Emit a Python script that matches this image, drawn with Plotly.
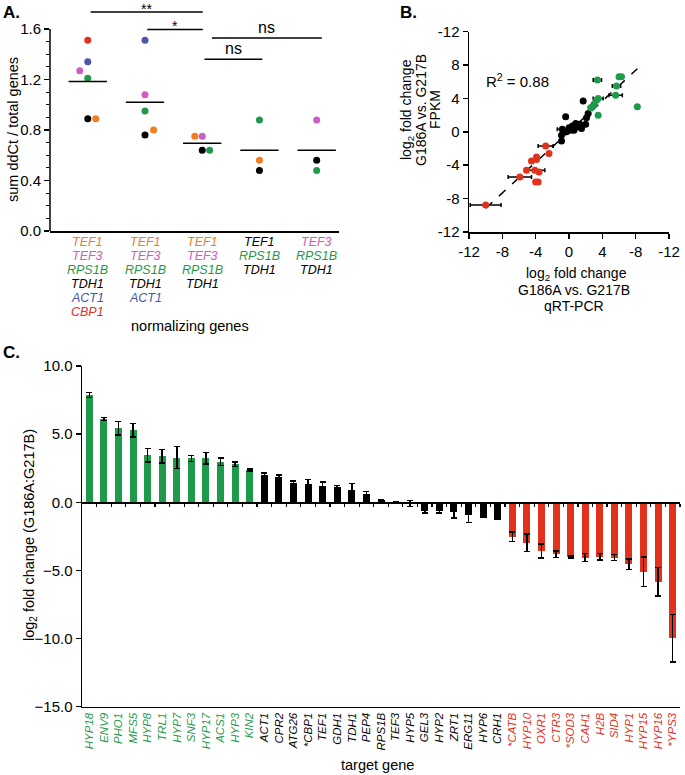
import numpy as np
import plotly.graph_objects as go

W, H = 685, 775
FONT = "Liberation Sans, Arial, Helvetica, sans-serif"

RED = "#e2321d"
BLUE = "#4a56a6"
PINK = "#cf5ec3"
GREEN = "#1f9a4b"
ORANGE = "#f07d1f"
BLACK = "#000000"

def px_x(p):
    return p / W

def px_y(p):
    return 1 - p / H

# ---------------- Panel A data ----------------
a_groups = [1, 2, 3, 4, 5]
a_label_genes = [
    ["TEF1", "TEF3", "RPS1B", "TDH1", "ACT1", "CBP1"],
    ["TEF1", "TEF3", "RPS1B", "TDH1", "ACT1"],
    ["TEF1", "TEF3", "RPS1B", "TDH1"],
    ["TEF1", "RPS1B", "TDH1"],
    ["TEF3", "RPS1B", "TDH1"],
]
a_label_colors = [
    [ORANGE, PINK, GREEN, BLACK, BLUE, RED],
    [ORANGE, PINK, GREEN, BLACK, BLUE],
    [ORANGE, PINK, GREEN, BLACK],
    [BLACK, GREEN, BLACK],
    [PINK, GREEN, BLACK],
]
a_point_group = [1, 1, 1, 1, 1, 1, 2, 2, 2, 2, 2, 3, 3, 3, 3, 4, 4, 4, 5, 5, 5]
a_point_value = [1.51, 1.34, 1.27, 1.21, 0.89, 0.89,
                 1.51, 1.08, 0.95, 0.80, 0.76,
                 0.75, 0.75, 0.64, 0.64,
                 0.88, 0.56, 0.48,
                 0.88, 0.56, 0.48]
a_point_color = [RED, BLUE, PINK, GREEN, BLACK, ORANGE,
                 BLUE, PINK, GREEN, ORANGE, BLACK,
                 ORANGE, PINK, BLACK, GREEN,
                 GREEN, ORANGE, BLACK,
                 PINK, BLACK, GREEN]
a_point_jitter = [0, 0, -0.14, 0, 0, 0.14,
                  0, 0, 0, 0.15, 0,
                  -0.13, 0, 0, 0.13,
                  0, 0, 0,
                  0, 0, 0]
a_sig_from = [1.05, 2.04, 3.17, 3.04]
a_sig_to = [3.01, 3.01, 5.09, 4.05]
a_sig_level = [1.735, 1.597, 1.529, 1.36]
a_sig_text = ["**", "*", "ns", "ns"]

# ---------------- Panel B data ----------------
b_qpcr = [-10.0, -5.9, -5.1, -4.1, -4.5, -3.9, -3.9, -3.6, -4.0, -3.7, -2.8, -2.4,
          -0.9, -0.9, -0.8, -0.4, -0.3, 0.0, 0.2, 0.4, 0.6, 0.8, 1.0, 1.3, 1.5, 1.7, 2.0, 2.1, 2.3,
          2.6, 3.0, 3.3, 3.5, 3.5, 3.4, 2.8, 5.6, 5.7, 6.0, 6.3, 8.2]
b_fpkm = [-8.75, -5.4, -4.6, -4.6, -3.5, -3.3, -3.0, -4.8, -6.0, -6.0, -1.7, -2.6,
          -1.1, -0.4, 0.3, 1.8, 0.0, 0.5, 0.2, 0.7, 0.2, 1.0, 0.6, 0.9, 0.4, 3.7, 0.9, 1.7, 2.2,
          2.9, 3.3, 3.8, 4.0, 2.0, 6.2, 3.0, 4.4, 5.5, 6.6, 6.6, 3.0]
b_qpcr_err = [1.85, 1.4, 0, 1.2, 0, 0, 0, 0, 0, 0, 0.9, 0,
              0, 0, 0.6, 0, 0, 0, 0, 0, 0, 0, 0, 0, 0, 0, 0, 0, 0,
              0, 0, 0, 0.6, 0, 0.5, 0, 0.8, 0.5, 0, 0, 0]
b_class = ["down"] * 12 + ["none"] * 17 + ["up"] * 12
b_tickvals = [-12, -8, -4, 0, 4, 8, 12]
b_x_ticktext = ["-12", "-8", "-4", "0", "4", "-8", "-12"]
b_y_ticktext = ["-12", "-8", "-4", "0", "4", "8", "-12"]
b_r2_text = "R<sup>2</sup> = 0.88"

# ---------------- Panel C data ----------------
c_genes = ["HYP18", "ENV9", "PHO1", "MFS5", "HYP8", "TRL1", "HYP7", "SNF3", "HYP17", "ACS1", "HYP3", "KIN2",
           "ACT1", "CPR2", "ATG26", "*CBP1", "TEF1", "GDH1", "TDH1", "PEP4", "RPS1B", "TEF3", "HYP5",
           "GEL3", "HYP2", "ZRT1", "ERG11", "HYP6", "CRH1",
           "*CATB", "HYP10", "OXR1", "CTR3", "*SOD3", "CAH1", "H2B", "SID4", "HYP1", "HYP15", "HYP16", "*YPS3"]
c_values = [7.87, 6.11, 5.43, 5.28, 3.45, 3.37, 3.28, 3.23, 3.23, 2.98, 2.79, 2.37,
            1.98, 1.86, 1.42, 1.32, 1.20, 1.12, 0.93, 0.64, 0.17, 0.02, -0.10,
            -0.64, -0.64, -0.70, -0.95, -1.12, -1.27,
            -2.54, -2.96, -3.57, -3.81, -4.00, -4.06, -4.00, -4.06, -4.55, -5.10, -5.84, -9.98]
c_errors = [0.18, 0.10, 0.49, 0.50, 0.49, 0.49, 0.80, 0.22, 0.42, 0.27, 0.15, 0.06,
            0.16, 0.13, 0.16, 0.37, 0.30, 0.11, 0.46, 0.16, 0.05, 0.0, 0.22,
            0.16, 0.15, 0.45, 0.55, 0.0, 0.0,
            0.35, 0.65, 0.51, 0.23, 0.07, 0.30, 0.25, 0.22, 0.38, 1.09, 1.04, 1.75]
c_class = ["up"] * 12 + ["none"] * 17 + ["down"] * 12

CLASS_COLOR = {"up": GREEN, "none": BLACK, "down": RED}

fig = go.Figure()

# ---------- Panel A ----------
a_x = [g + j for g, j in zip(a_point_group, a_point_jitter)]
fig.add_trace(go.Scatter(
    x=a_x, y=a_point_value, mode="markers", xaxis="x", yaxis="y",
    marker=dict(color=a_point_color, size=7, line=dict(width=0)),
    showlegend=False, hoverinfo="skip"))
for g in a_groups:
    vals = [v for v, pg in zip(a_point_value, a_point_group) if pg == g]
    m = float(np.mean(vals))
    fig.add_trace(go.Scatter(
        x=[g - 0.335, g + 0.335], y=[m, m], mode="lines", xaxis="x", yaxis="y",
        line=dict(color="black", width=1.5), showlegend=False, hoverinfo="skip"))

# x labels of panel A: one text line per normalizing gene
for g, genes, cols in zip(a_groups, a_label_genes, a_label_colors):
    for k, (gene, col) in enumerate(zip(genes, cols)):
        fig.add_annotation(x=g, y=1 - (242 + 14 * k) / H, xref="x", yref="paper",
                           text=f"<i>{gene}</i>", showarrow=False, yanchor="middle",
                           font=dict(size=12.5, family=FONT, color=col))

for x0, x1, yv, t in zip(a_sig_from, a_sig_to, a_sig_level, a_sig_text):
    fig.add_shape(type="line", xref="x", yref="y", x0=x0, x1=x1, y0=yv, y1=yv,
                  line=dict(color="black", width=1.5))
    if "*" in t:
        fig.add_annotation(x=(x0 + x1) / 2, y=yv, xref="x", yref="y", text=t, showarrow=False,
                           yanchor="middle", yshift=3,
                           font=dict(size=14, family=FONT, color="black"))
    else:
        fig.add_annotation(x=(x0 + x1) / 2, y=yv, xref="x", yref="y", text=t, showarrow=False,
                           yanchor="bottom", yshift=0,
                           font=dict(size=16, family=FONT, color="black"))

# ---------- Panel B ----------
bx = np.array(b_qpcr)
by = np.array(b_fpkm)
slope, intercept = np.polyfit(bx, by, 1)
xfit = np.array([bx.min(), bx.max()])
fig.add_trace(go.Scatter(
    x=xfit, y=slope * xfit + intercept, mode="lines", xaxis="x2", yaxis="y2",
    line=dict(color="black", width=1.5, dash="dash"), showlegend=False, hoverinfo="skip"))
fig.add_trace(go.Scatter(
    x=b_qpcr, y=b_fpkm, mode="markers", xaxis="x2", yaxis="y2",
    marker=dict(color=[CLASS_COLOR[c] for c in b_class], size=7),
    error_x=dict(type="data", array=b_qpcr_err, color="black", thickness=1.5, width=2),
    showlegend=False, hoverinfo="skip"))
fig.add_annotation(x=-6.2, y=6.2, xref="x2", yref="y2", text=b_r2_text, showarrow=False,
                   font=dict(size=15, family=FONT, color="black"))

# ---------- Panel C ----------
c_x = list(range(len(c_genes)))
fig.add_trace(go.Bar(
    x=c_x, y=c_values, xaxis="x3", yaxis="y3", width=0.48,
    marker=dict(color=[CLASS_COLOR[c] for c in c_class], line=dict(width=0)),
    error_y=dict(type="data", array=c_errors, color="black", thickness=1.5, width=3),
    showlegend=False, hoverinfo="skip"))
# helper trace so the zero-line axis is drawn
fig.add_trace(go.Scatter(x=[None], y=[None], xaxis="x4", yaxis="y3", showlegend=False,
                         hoverinfo="skip"))

c_ticktext = [f'<span style="color:{CLASS_COLOR[c]}"><i>{g}</i></span>'
              for g, c in zip(c_genes, c_class)]

c_yrange = [-15, 10]
c_ydom = [px_y(706.7), px_y(366)]
zero_pos = c_ydom[0] + (0 - c_yrange[0]) / (c_yrange[1] - c_yrange[0]) * (c_ydom[1] - c_ydom[0])

tickfont = dict(size=15, family=FONT, color="black")

a_ydom = [px_y(231), px_y(3.75)]
fig.update_layout(
    width=W, height=H, margin=dict(l=0, r=0, t=0, b=0),
    paper_bgcolor="white", plot_bgcolor="white",
    font=dict(family=FONT, color="black"),
    bargap=0,
    xaxis=dict(domain=[px_x(50), px_x(339)], range=[0.34, 5.39], tickvals=a_groups,
               showticklabels=False, ticks="",
               showline=True, linecolor="black", linewidth=1.5, showgrid=False, zeroline=False,
               anchor="y", automargin=False),
    yaxis=dict(domain=a_ydom, range=[0, 1.8], tickvals=[0, 0.4, 0.8, 1.2, 1.6],
               ticktext=["0.0", "0.4", "0.8", "1.2", "1.6"], tickfont=tickfont,
               ticks="outside", ticklen=5, tickwidth=1.5, tickcolor="black",
               minor=dict(tickvals=[0.1, 0.2, 0.3, 0.5, 0.6, 0.7, 0.9, 1.0, 1.1, 1.3, 1.4, 1.5],
                          ticks="outside", ticklen=3, tickwidth=1, tickcolor="black"),
               showline=False, showgrid=False, zeroline=False, anchor="x", automargin=False),
    xaxis2=dict(domain=[px_x(469), px_x(669)], range=[-12, 12], tickvals=b_tickvals,
                ticktext=b_x_ticktext, tickfont=tickfont, ticks="outside", ticklen=5,
                tickwidth=1.5, tickcolor="black", showline=True, linecolor="black",
                linewidth=1.5, showgrid=False, zeroline=False, anchor="y2", automargin=False),
    yaxis2=dict(domain=[px_y(232), px_y(31.7)], range=[-12, 12], tickvals=b_tickvals,
                ticktext=b_y_ticktext, tickfont=tickfont, ticks="outside", ticklen=5,
                tickwidth=1.5, tickcolor="black", showline=True, linecolor="black",
                linewidth=1.5, showgrid=False, zeroline=False, anchor="x2", automargin=False),
    xaxis3=dict(domain=[px_x(82), px_x(680)], range=[-0.5, 40.5], tickvals=c_x,
                ticktext=c_ticktext, tickangle=-90, tickfont=dict(size=11.5, family=FONT),
                ticks="", showline=True, linecolor="black", linewidth=1.5, showgrid=False,
                zeroline=False, anchor="y3", automargin=False),
    xaxis4=dict(overlaying="x3", anchor="free", position=zero_pos, range=[-0.5, 40.5],
                tickvals=[i + 0.5 for i in range(len(c_genes))], showticklabels=False,
                ticks="outside", ticklen=3, tickwidth=1.2, tickcolor="black",
                showline=True, linecolor="black", linewidth=1.5, showgrid=False,
                zeroline=False, automargin=False),
    yaxis3=dict(domain=c_ydom, range=c_yrange, tickvals=[-15, -10, -5, 0, 5, 10],
                tickformat=".1f", tickfont=tickfont, ticks="outside", ticklen=5,
                tickwidth=1.5, tickcolor="black", showline=True, linecolor="black",
                linewidth=1.5, showgrid=False, zeroline=False, anchor="x3", automargin=False),
)

# Panel A y axis line stopping at 1.6
fig.add_shape(type="line", xref="paper", yref="y", x0=px_x(50), x1=px_x(50), y0=0, y1=1.6,
              line=dict(color="black", width=1.5))

def ann(text, x, y, size=14, angle=0, bold=False, xanchor="center", yanchor="middle"):
    fig.add_annotation(text=f"<b>{text}</b>" if bold else text, x=px_x(x), y=px_y(y),
                       xref="paper", yref="paper", showarrow=False, textangle=angle,
                       xanchor=xanchor, yanchor=yanchor,
                       font=dict(size=size, family=FONT, color="black"))

ann("A.", 11, 13, size=17, bold=True)
ann("B.", 408, 13, size=17, bold=True)
ann("C.", 11, 352, size=17, bold=True)
ann("sum ddCt / total genes", 13, 130, size=14.5, angle=-90)
ann("normalizing genes", 190, 326, size=14.5)
ann("log<sub>2</sub> fold change", 407, 110, size=14, angle=-90)
ann("G186A vs. G217B", 421, 110, size=14, angle=-90)
ann("FPKM", 435, 110, size=14, angle=-90)
ann("log<sub>2</sub> fold change", 576, 274, size=14)
ann("G186A vs. G217B", 574, 290, size=14)
ann("qRT-PCR", 574, 306, size=14)
ann("log<sub>2</sub> fold change (G186A:G217B)", 30, 535, size=14.5, angle=-90)
ann("target gene", 377, 765, size=14.5)

fig.write_html("out.html", config={"displayModeBar": False, "staticPlot": True},
               post_script="document.body.style.margin='0';")
